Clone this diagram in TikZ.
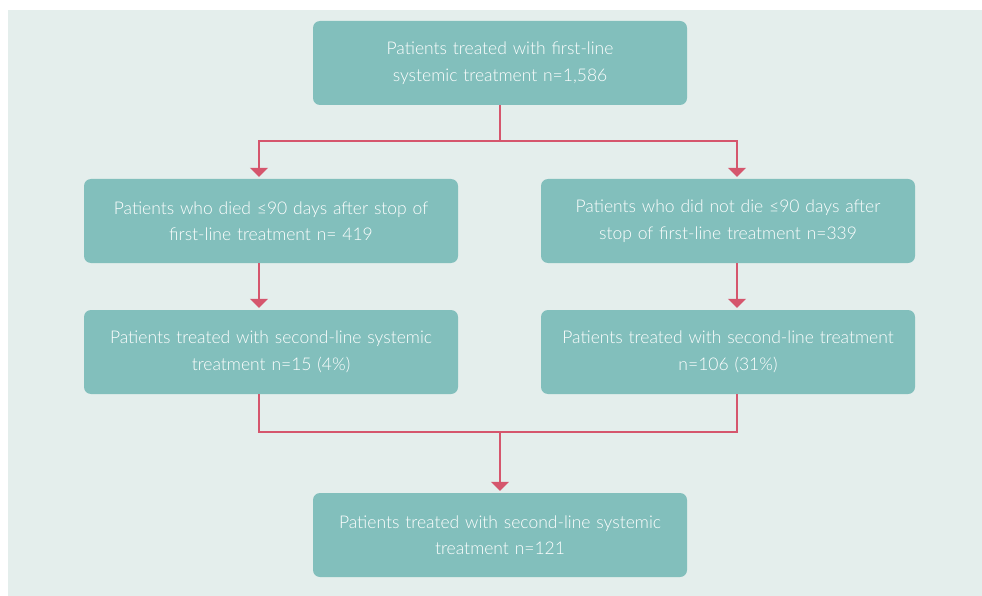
\documentclass[tikz,border=0pt]{standalone}
\usepackage{fontspec}
\setmainfont{Lato Light}
\usetikzlibrary{arrows.meta}
\definecolor{bgc}{HTML}{E4EEEC}
\definecolor{boxc}{HTML}{82BFBC}
\definecolor{linkc}{HTML}{D5566D}
\begin{document}
\begin{tikzpicture}[x=1pt,y=-1pt,
  box/.style={fill=boxc, rounded corners=7pt, minimum width=374pt,
    minimum height=84pt, text width=370pt, align=center, text=white,
    font=\fontsize{17.5}{26.5}\selectfont, inner sep=0pt},
  link/.style={draw=linkc, line width=1.3pt},
  arrowlink/.style={link, -{Triangle[width=18pt,length=9pt]}, shorten >=2pt}]
\path[use as bounding box] (0,0) rectangle (982,596);
\fill[bgc] (8,10) rectangle (982,596);

% boxes
\node[box] (top) at (500,63) {Patients treated with first-line\\systemic treatment n=1,586};
\node[box] (ml) at (271,221) {Patients who died ≤90 days after stop of\\first-line treatment n= 419};
\node[box] (mr) at (728,221) {Patients who did not die ≤90 days after\\stop of first-line treatment n=339};
\node[box] (bl) at (271,352) {Patients treated with second-line systemic\\treatment n=15 (4\%)};
\node[box] (br) at (728,352) {Patients treated with second-line treatment\\n=106 (31\%)};
\node[box] (bot) at (500,535) {Patients treated with second-line systemic\\treatment n=121};

% branch columns
\coordinate (xl) at (259,0);
\coordinate (xr) at (737,0);
\coordinate (split) at (500,141);
\coordinate (join) at (500,432);

% split from the first-line box
\draw[link] (top.south) -- (split);
\draw[arrowlink] (split) -| (ml.north -| xl);
\draw[arrowlink] (split) -| (mr.north -| xr);

% down each branch
\draw[arrowlink] (ml.south -| xl) -- (bl.north -| xl);
\draw[arrowlink] (mr.south -| xr) -- (br.north -| xr);

% join into the final box
\draw[link] (bl.south -| xl) |- (join);
\draw[link] (br.south -| xr) |- (join);
\draw[arrowlink] (join) -- (bot.north);
\end{tikzpicture}
\end{document}
